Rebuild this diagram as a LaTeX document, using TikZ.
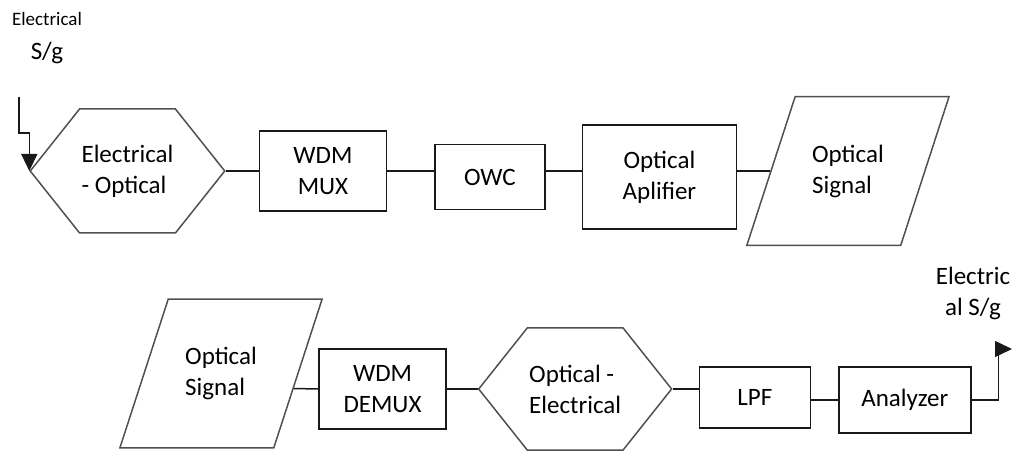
\documentclass[tikz,border=0pt]{standalone}
\usepackage{fontspec}
\setmainfont{Carlito}
\usetikzlibrary{arrows.meta,positioning,shapes.geometric,shapes.symbols,calc}
\definecolor{owBlack}{RGB}{25,25,25}
\definecolor{owGrey} {RGB}{80,80,80}

\begin{document}
\begin{tikzpicture}[
    x=1pt,y=-1pt,
    every node/.style={font=\fontsize{25}{31}\selectfont},
    box/.style={rectangle,draw=owBlack,line width=1.5pt,align=center,inner sep=2pt},
    hexB/.style={signal,signal to=west and east,signal pointer angle=103,
                 draw=owGrey,line width=1.5pt,align=left,inner sep=2pt},
    paraB/.style={trapezium,trapezium left angle=72,trapezium right angle=108,
                  draw=owGrey,line width=1.5pt,align=left,
                  inner xsep=17pt,inner ysep=48pt},
    wire/.style={owBlack,line width=1.5pt},
    arr/.style={wire,-{Triangle[length=17pt,width=16pt]}}
  ]
  \useasboundingbox (0,0) rectangle (1013,457);
  % Transmitter row
  \node[hexB,minimum width=189pt,minimum height=124pt] (eo) at (127.5,171)
        {Electrical\\- Optical};
  \node[box,minimum width=127pt,minimum height=80pt,right=33pt of eo] (mux)
        {WDM\\MUX};
  \node[box,minimum width=110pt,minimum height=65pt,right=47pt of mux,
        yshift=-6pt] (owc) {OWC};
  \node[box,minimum width=154pt,minimum height=104pt,right=36pt of owc] (amp)
        {Optical\\Aplifier};
  \node[paraB,right=33pt of amp,yshift=6pt] (sig) {Optical\\Signal};
  % Receiver row
  \node[paraB] (psig) at (221,373.5) {Optical\\Signal};
  \node[box,minimum width=127pt,minimum height=80pt] (dmx) at (382.5,389)
        {WDM\\DEMUX};
  \node[hexB,minimum width=186pt,minimum height=122pt,right=31pt of dmx] (oe)
        {Optical -\\Electrical};
  \node[box,minimum width=111pt,minimum height=61pt,right=26pt of oe,
        yshift=-8.5pt] (lpf) {LPF};
  \node[box,minimum width=132pt,minimum height=66pt,right=27pt of lpf,
        yshift=-2.5pt] (ana) {Analyzer};
  % Signal in / out
  \coordinate (sgin) at (19,97);
  \coordinate (sgout) at (1012,349);
  \node[align=center] (intxt) at (47,38)
        {{\fontsize{19}{22}\selectfont Electrical}\\[3pt] S/g};
  \node[align=center] (outtxt) at (973,293) {Electric\\al S/g};
  % Connectors
  \draw[arr] (sgin) -- ++(0,36) -| (eo.west);
  \draw[wire] (eo.east) -- (mux.west);
  \draw[wire] (mux.east) -- (owc.west |- mux.east);
  \draw[wire] (owc.east |- mux.east) -- (amp.west |- mux.east);
  \draw[wire] (amp.east |- mux.east) -- (sig.west);
  \draw[wire] ($(psig.top right corner)!0.6!(psig.bottom right corner)$)
        -- (dmx.west);
  \draw[wire] (dmx.east) -- (oe.west);
  \draw[wire] (oe.east) -- (lpf.west |- oe.east);
  \draw[wire] (lpf.east |- ana.west) -- (ana.west);
  \draw[arr] (ana.east) -- ++(27,0) |- (sgout);
\end{tikzpicture}
\end{document}
